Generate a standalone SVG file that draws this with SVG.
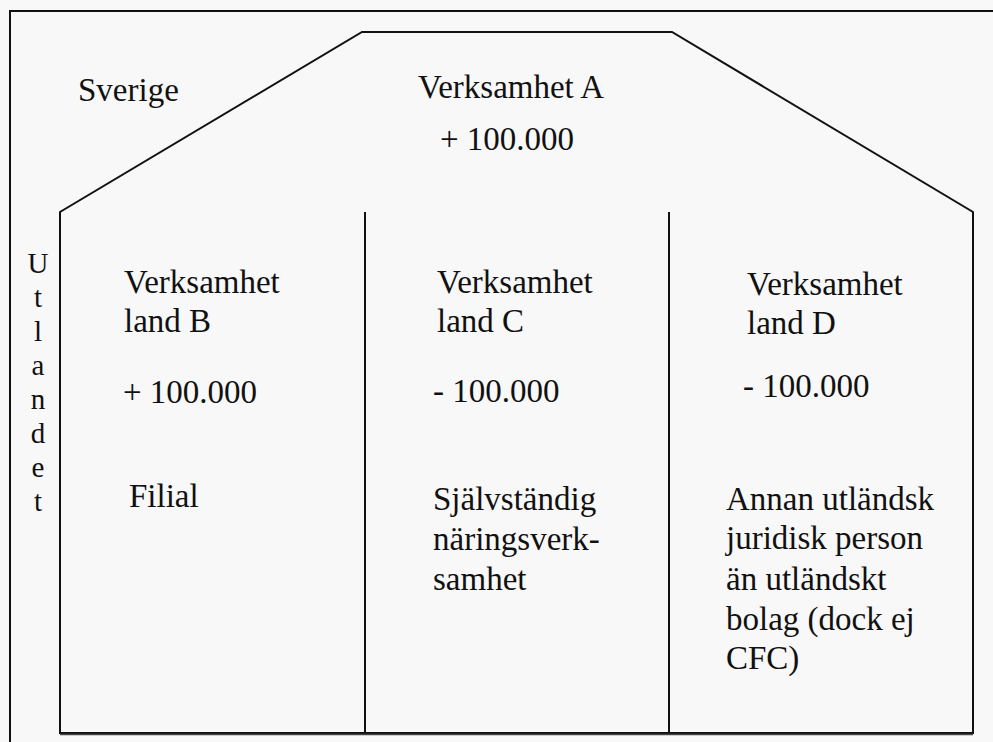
<svg xmlns="http://www.w3.org/2000/svg" width="993" height="742" viewBox="0 0 993 742">
<style>
.ln{fill:none;stroke:#111;stroke-width:2;stroke-linejoin:miter}
.t{font-family:"Liberation Serif","Times New Roman",serif;font-size:33px;fill:#111}
.v{font-family:"Liberation Serif","Times New Roman",serif;font-size:29px;fill:#111;text-anchor:middle}
</style>
<rect x="0" y="0" width="993" height="742" fill="#f8f8f8"/>
<path class="ln" d="M10,742 V11 H993"/>
<g id="house">
<path class="ln" d="M60,733 V212 L362,32 H672 L973,212 V733 Z"/>
<line x1="60" y1="734.5" x2="973" y2="734.5" stroke="#444" stroke-width="1.5"/>
</g>
<g id="dividers">
<line class="ln" x1="365" y1="212" x2="365" y2="733"/>
<line class="ln" x1="669" y1="212" x2="669" y2="733"/>
</g>
<g id="sverige">
<text class="t" x="78" y="101">Sverige</text>
</g>
<g id="verksamhet-a">
<text class="t" x="418" y="98">Verksamhet A</text>
<text class="t" x="440" y="150">+ 100.000</text>
</g>
<g id="utlandet">
<text class="v" x="38" y="273">U</text>
<text class="v" x="38" y="307">t</text>
<text class="v" x="38" y="341">l</text>
<text class="v" x="38" y="375">a</text>
<text class="v" x="38" y="409">n</text>
<text class="v" x="38" y="443">d</text>
<text class="v" x="38" y="477">e</text>
<text class="v" x="38" y="511">t</text>
</g>
<g id="land-b">
<text class="t" x="124" y="293">Verksamhet</text>
<text class="t" x="124" y="332">land B</text>
<text class="t" x="123" y="403">+ 100.000</text>
<text class="t" x="129" y="507">Filial</text>
</g>
<g id="land-c">
<text class="t" x="437" y="293">Verksamhet</text>
<text class="t" x="437" y="332">land C</text>
<text class="t" x="433" y="402">- 100.000</text>
<text class="t" x="433" y="510">Självständig</text>
<text class="t" x="433" y="550">näringsverk-</text>
<text class="t" x="433" y="590">samhet</text>
</g>
<g id="land-d">
<text class="t" x="747" y="295">Verksamhet</text>
<text class="t" x="747" y="334">land D</text>
<text class="t" x="743" y="397">- 100.000</text>
<text class="t" x="726" y="510">Annan utländsk</text>
<text class="t" x="726" y="549">juridisk person</text>
<text class="t" x="726" y="590">än utländskt</text>
<text class="t" x="726" y="630">bolag (dock ej</text>
<text class="t" x="726" y="669">CFC)</text>
</g>
</svg>
